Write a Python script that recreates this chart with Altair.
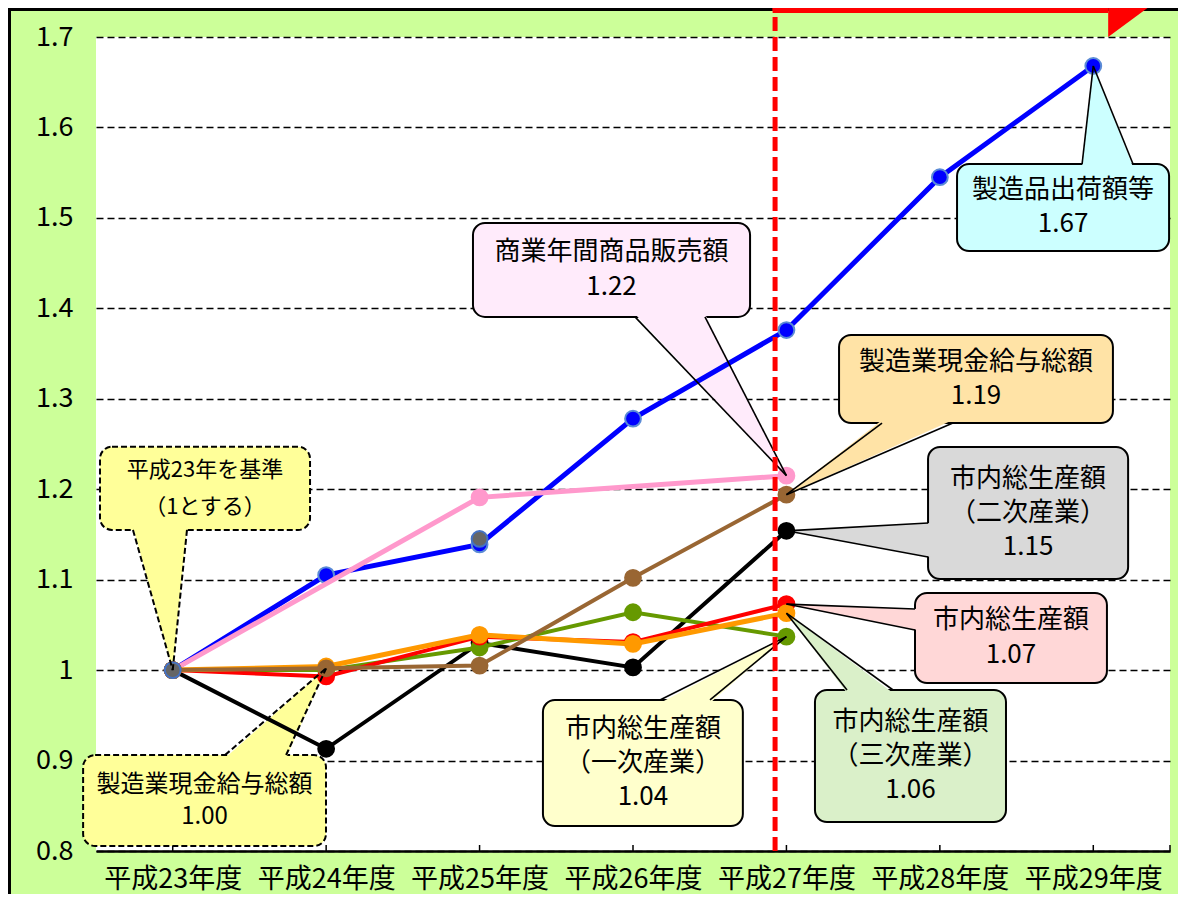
import altair as alt
import pandas as pd

# ---------------- data ----------------
categories = ["平成23年度", "平成24年度", "平成25年度", "平成26年度",
              "平成27年度", "平成28年度", "平成29年度"]

shipments = [1.000, 1.105, 1.139, 1.278, 1.376, 1.545, 1.668]   # 製造品出荷額等
commerce  = [1.000, None, 1.191, None, 1.215, None, None]       # 商業年間商品販売額
wages     = [1.000, 1.002, 1.005, 1.102, 1.194, None, None]     # 製造業現金給与総額
secondary = [1.000, 0.913, 1.030, 1.003, 1.154, None, None]     # 市内総生産額（二次産業）
primary   = [1.000, 1.000, 1.025, 1.064, 1.037, None, None]     # 市内総生産額（一次産業）
gdp_total = [1.000, 0.993, 1.037, 1.031, 1.073, None, None]     # 市内総生産額
tertiary  = [1.000, 1.004, 1.039, 1.029, 1.063, None, None]     # 市内総生産額（三次産業）
base_pts  = [1.000, None, 1.145, None, None, None, None]        # grey markers

y_ticks = [0.8, 0.9, 1.0, 1.1, 1.2, 1.3, 1.4, 1.5, 1.6, 1.7]
plan_label = "産業振興計画"

# ---------------- styling / geometry ----------------
FONT = "Noto Sans CJK JP"
W, H = 1074, 814
PX_X = 7.0 / W      # one pixel in category units
PX_Y = 0.9 / H      # one pixel in value units
XS = alt.Scale(domain=[-0.5, 6.5], nice=False, zero=False)
YS = alt.Scale(domain=[0.8, 1.7], nice=False, zero=False)


def xq(f, **kw):
    return alt.X(f"{f}:Q", scale=XS, title=None, **kw)


def yq(f, **kw):
    return alt.Y(f"{f}:Q", scale=YS, title=None, **kw)


one = pd.DataFrame({"k": [0]})
layers = []

# axes + inward ticks (first layer carries the explicit axis definitions)
label_expr = "[" + ",".join(f"'{c}'" for c in categories) + "][datum.value]"
tick_pos = list(range(len(categories))) + [len(categories) - 0.5]
tick_df = pd.DataFrame({"t": tick_pos, "y0": [0.8] * len(tick_pos),
                        "y1": [0.8 + 6 * PX_Y] * len(tick_pos)})
layers.append(
    alt.Chart(tick_df).mark_rule(color="black", strokeWidth=1.5).encode(
        x=alt.X("t:Q", scale=XS, title=None,
                axis=alt.Axis(values=list(range(len(categories))), labelExpr=label_expr,
                              labelFont=FONT, labelFontSize=27, labelColor="black",
                              labelPadding=28, labelBaseline="middle", labelAngle=0,
                              labelFlush=False, labelOverlap=False,
                              ticks=False, tickSize=0, grid=False,
                              domain=True, domainColor="black", domainWidth=2.5)),
        y=alt.Y("y0:Q", scale=YS, title=None,
                axis=alt.Axis(values=y_ticks,
                              labelExpr="datum.value == 1 ? '1' : format(datum.value, '.1f')",
                              labelFont=FONT, labelFontSize=27, labelColor="black",
                              labelPadding=23, labelFlush=False, labelOverlap=False,
                              ticks=False, tickSize=0, domain=False,
                              grid=True, gridColor="black", gridDash=[7, 4],
                              gridWidth=1.5, gridOpacity=1)),
        y2="y1:Q",
    )
)

# outer frame
layers.append(
    alt.Chart(one).mark_rect(fillOpacity=0, stroke="black", strokeWidth=3).encode(
        x=alt.value(-86.5), x2=alt.value(1300), y=alt.value(-27.5), y2=alt.value(1000))
)

# ---------------- callouts ----------------
callouts = [
    dict(text="平成23年を基準\n（1とする）", fill="#FFFF99", dashed=True,
         box=(-0.474, 0.895, 1.155, 1.247), edge="bottom", base=(-0.259, 0.093),
         tip=(0, base_pts[0]), fs=22, lh=37),
    dict(text="製造業現金給与総額\n1.00", fill="#FFFF99", dashed=True,
         box=(-0.584, 0.999, 0.8055, 0.9061), edge="top", base=(0.341, 0.739),
         tip=(1, wages[1]), fs=24, lh=32),
    dict(text="商業年間商品販売額\n1.22", fill="#FFEBFB", dashed=False,
         box=(1.957, 3.763, 1.3905, 1.4944), edge="bottom", base=(3.013, 3.469),
         tip=(4, commerce[4]), fs=26, lh=35),
    dict(text="製造品出荷額等\n1.67", fill="#CCFFFF", dashed=False,
         box=(5.112, 6.494, 1.4634, 1.5596), edge="top", base=(5.927, 6.259),
         tip=(6, shipments[6]), fs=26, lh=34),
    dict(text="製造業現金給与総額\n1.19", fill="#FFE3A6", dashed=False,
         box=(4.343, 6.128, 1.2732, 1.3705), edge="bottom", base=(4.623, 5.085),
         tip=(4, wages[4]), fs=26, lh=34),
    dict(text="市内総生産額\n（二次産業）\n1.15", fill="#D9D9D9", dashed=False,
         box=(4.923, 6.227, 1.1008, 1.2467), edge="left", base=(1.1251, 1.1627),
         tip=(4, secondary[4]), fs=26, lh=34),
    dict(text="市内総生産額\n1.07", fill="#FFD7D7", dashed=False,
         box=(4.838, 6.089, 0.9858, 1.0853), edge="left", base=(1.0444, 1.0676),
         tip=(4, gdp_total[4]), fs=26, lh=35),
    dict(text="市内総生産額\n（一次産業）\n1.04", fill="#FFFFCC", dashed=False,
         box=(2.413, 3.716, 0.8276, 0.967), edge="top", base=(3.176, 3.502),
         tip=(4, primary[4]), fs=26, lh=34),
    dict(text="市内総生産額\n（三次産業）\n1.06", fill="#DAF0C9", dashed=False,
         box=(4.186, 5.431, 0.832, 0.978), edge="top", base=(4.395, 4.695),
         tip=(4, tertiary[4]), fs=26, lh=34),
]

box_layers, side_layers = [], []
for c in callouts:
    x1, x2, y1, y2 = c["box"]
    b0, b1 = c["base"]
    tx, ty = c["tip"]
    rect_kw = dict(cornerRadius=12, fill=c["fill"], stroke="black", strokeWidth=2)
    rule_kw = dict(color="black", strokeWidth=1.6)
    if c["dashed"]:
        rect_kw["strokeDash"] = [6, 3]
        rule_kw["strokeDash"] = [6, 3]
        rule_kw["strokeWidth"] = 2
    bdf = pd.DataFrame({"x1": [x1], "x2": [x2], "y1": [y1], "y2": [y2]})
    box_layers.append(
        alt.Chart(bdf).mark_rect(**rect_kw).encode(
            x=xq("x1"), x2="x2:Q", y=yq("y1"), y2="y2:Q"))

    if c["edge"] in ("top", "bottom"):
        ey = y2 if c["edge"] == "top" else y1
        inset = -3 * PX_Y if c["edge"] == "top" else 3 * PX_Y
        pdf = pd.DataFrame({"py": [ey + inset, ty], "pa": [b0, tx], "pb": [b1, tx]})
        box_layers.append(
            alt.Chart(pdf).mark_area(orient="horizontal", color=c["fill"], opacity=1).encode(
                y=yq("py"), x=xq("pa", stack=None), x2="pb:Q"))
        sdf = pd.DataFrame({"sx": [b0, b1], "sy": [ey, ey], "ex": [tx, tx], "ey": [ty, ty]})
    else:
        pdf = pd.DataFrame({"px": [x1 + 3 * PX_X, tx], "pa": [b0, ty], "pb": [b1, ty]})
        box_layers.append(
            alt.Chart(pdf).mark_area(orient="vertical", color=c["fill"], opacity=1).encode(
                x=xq("px"), y=yq("pa", stack=None), y2="pb:Q"))
        sdf = pd.DataFrame({"sx": [x1, x1], "sy": [b0, b1], "ex": [tx, tx], "ey": [ty, ty]})
    side_layers.append(
        alt.Chart(sdf).mark_rule(**rule_kw).encode(
            x=xq("sx"), y=yq("sy"), x2="ex:Q", y2="ey:Q"))

    n_lines = c["text"].count("\n") + 1
    tdf = pd.DataFrame({"cx": [(x1 + x2) / 2], "cy": [(y1 + y2) / 2], "t": [c["text"]]})
    box_layers.append(
        alt.Chart(tdf).mark_text(align="center", baseline="middle", font=FONT,
                                 fontSize=c["fs"], lineHeight=c["lh"], lineBreak="\n",
                                 dy=-(n_lines - 1) * c["lh"] / 2,
                                 color="black").encode(
            x=xq("cx"), y=yq("cy"), text="t:N"))

layers += box_layers

# ---------------- series ----------------
series = [
    (shipments, "#0000FF", 5, "#5B8BD6", True),
    (commerce, "#FF99CC", 5, "#FF99CC", True),
    (secondary, "#000000", 4, "#000000", True),
    (primary, "#669900", 4, "#669900", True),
    (gdp_total, "#FF0000", 4, "#FF0000", True),
    (tertiary, "#FF9900", 5, "#FF9900", True),
    (wages, "#996633", 4, "#996633", True),
    (base_pts, "#666666", 0, "#4472C4", False),
]
for vals, col, lw, mstroke, draw_line in series:
    df = pd.DataFrame({"i": list(range(len(categories))), "v": vals}).dropna()
    if draw_line:
        layers.append(alt.Chart(df).mark_line(color=col, strokeWidth=lw).encode(
            x=xq("i"), y=yq("v")))
    layers.append(alt.Chart(df).mark_circle(size=250, color=col, opacity=1,
                                            stroke=mstroke, strokeWidth=2).encode(
        x=xq("i"), y=yq("v")))

layers += side_layers

# ---------------- plan divider & arrow ----------------
plan_df = pd.DataFrame({"x": [3.926], "y": [0.8]})
layers.append(
    alt.Chart(plan_df).mark_rule(color="#FF0000", strokeWidth=5, strokeDash=[14, 6]).encode(
        x=xq("x"), y=yq("y"), y2=alt.value(-29)))

band_df = pd.DataFrame({"x1": [3.91], "x2": [6.097]})
layers.append(
    alt.Chart(band_df).mark_rect(color="#FF0000").encode(
        x=xq("x1"), x2="x2:Q", y=alt.value(-45), y2=alt.value(-24)))

head_df = pd.DataFrame({"ax": [6.097, 6.468], "ay": [-48, -42], "ay2": [0, -42]})
layers.append(
    alt.Chart(head_df).mark_area(orient="vertical", color="#FF0000", opacity=1).encode(
        x=xq("ax"), y=alt.Y("ay:Q", scale=None, title=None),
        y2="ay2:Q"))

plan_txt = pd.DataFrame({"x": [4.59], "t": [plan_label]})
layers.append(
    alt.Chart(plan_txt).mark_text(font=FONT, fontSize=26, fontWeight="bold", color="white",
                                  baseline="bottom").encode(
        x=xq("x"), y=alt.value(-32), text="t:N"))

chart = alt.layer(*layers).properties(
    width=W, height=H,
    autosize=alt.AutoSizeParams(type="none"),
    padding={"left": 88, "top": 29, "right": 8, "bottom": 43},
    background="#CCFF99",
).configure_view(fill="white", strokeWidth=0)

chart.save("out.html", embed_options={"renderer": "svg", "actions": False})
